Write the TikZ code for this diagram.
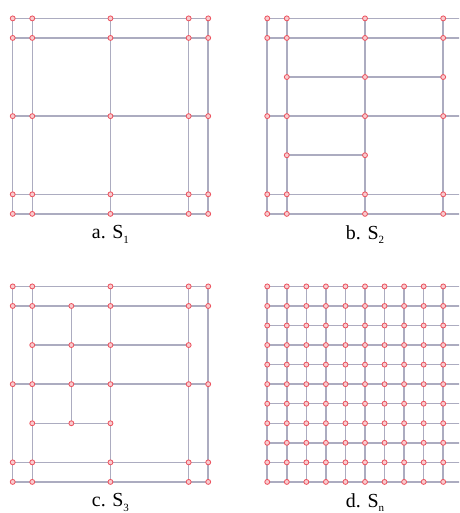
\documentclass[tikz,border=0pt]{standalone}
\usepackage{fontspec}
\setmainfont{Liberation Serif}
\usetikzlibrary{positioning}
\definecolor{gridline}{RGB}{172,172,192}
\definecolor{dotred}{RGB}{236,84,96}
\newcommand{\lowidx}[1]{\raisebox{-0.45ex}{\footnotesize #1}}

\begin{document}
\begin{tikzpicture}[x=0.5cm, y=0.5cm,
  wire/.style={draw=gridline, line width=1.1pt},
  knot/.style={draw=dotred, fill=dotred!30, line width=0.6pt},
  caption/.style={font=\fontsize{14.5}{16}\selectfont}]
  \useasboundingbox (0,0) rectangle (23.48,26.24);
  \clip (0,0) rectangle (23.48,26.24);

  % a. base grid
  \begin{scope}[shift={(0.65,25.30)}]
    \foreach \k in {0,1,5,9,10}
      { \draw[wire] (\k,0) -- (\k,-10); \draw[wire] (0,-\k) -- (10,-\k); }
    \foreach \i in {0,1,5,9,10}
      \foreach \j in {0,1,5,9,10}
        \filldraw[knot] (\i,-\j) circle (1.8pt);
    \node[caption] (capa) at (5,-11.05) {a. S\lowidx{1}};
  \end{scope}

  % b. one refinement
  \begin{scope}[shift={(13.67,25.30)}]
    \foreach \k in {0,1,5,9,10}
      { \draw[wire] (\k,0) -- (\k,-10); \draw[wire] (0,-\k) -- (10,-\k); }
    \draw[wire] (1,-3) -- (9,-3);
    \draw[wire] (1,-7) -- (5,-7);
    \foreach \i in {0,1,5,9,10}
      \foreach \j in {0,1,5,9,10}
        \filldraw[knot] (\i,-\j) circle (1.8pt);
    \foreach \i/\j in {1/3, 5/3, 9/3, 1/7, 5/7}
      \filldraw[knot] (\i,-\j) circle (1.8pt);
    \node[caption] (capb) at (5,-11.05) {b. S\lowidx{2}};
  \end{scope}

  % c. two refinements
  \begin{scope}[shift={(0.65,11.59)}]
    \foreach \k in {0,1,5,9,10}
      { \draw[wire] (\k,0) -- (\k,-10); \draw[wire] (0,-\k) -- (10,-\k); }
    \draw[wire] (1,-3) -- (9,-3);
    \draw[wire] (1,-7) -- (5,-7);
    \draw[wire] (3,-1) -- (3,-7);
    \foreach \i in {0,1,5,9,10}
      \foreach \j in {0,1,5,9,10}
        \filldraw[knot] (\i,-\j) circle (1.8pt);
    \foreach \i/\j in {3/1, 1/3, 3/3, 5/3, 9/3, 3/5, 1/7, 3/7, 5/7}
      \filldraw[knot] (\i,-\j) circle (1.8pt);
    \node[caption] (capc) at (5,-11.05) {c. S\lowidx{3}};
  \end{scope}

  % d. uniform grid
  \begin{scope}[shift={(13.67,11.59)}]
    \foreach \k in {0,...,10}
      { \draw[wire] (\k,0) -- (\k,-10); \draw[wire] (0,-\k) -- (10,-\k); }
    \foreach \i in {0,...,10}
      \foreach \j in {0,...,10}
        \filldraw[knot] (\i,-\j) circle (1.8pt);
    \node[caption] (capd) at (5,-11.05) {d. S\lowidx{n}};
  \end{scope}
\end{tikzpicture}
\end{document}
